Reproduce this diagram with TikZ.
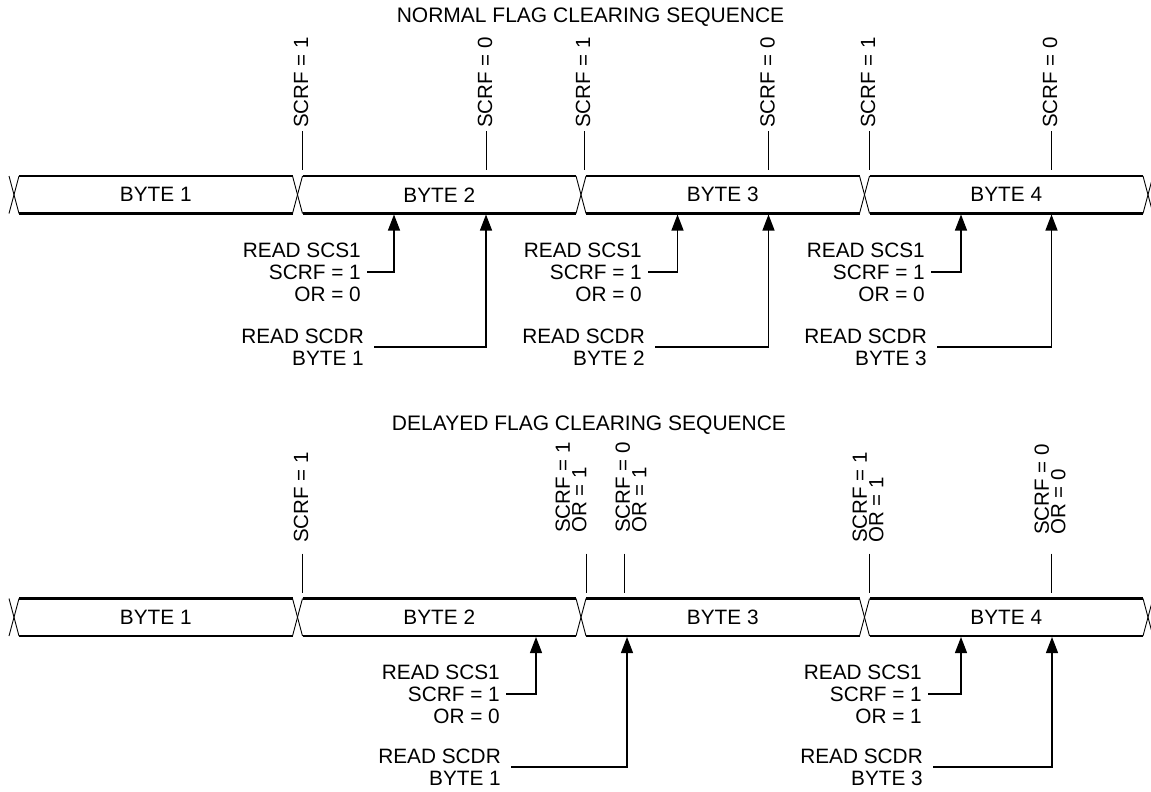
\documentclass[tikz,border=0pt]{standalone}
\usepackage{fontspec}
\setmainfont{Liberation Sans}
\usetikzlibrary{arrows.meta}
\begin{document}
\begin{tikzpicture}[x=1pt,y=-1pt,
  txt/.style={inner sep=0pt, font=\fontsize{20.8}{22}\selectfont},
  ttl/.style={inner sep=0pt, font=\fontsize{21}{23}\selectfont},
  rtxt/.style={inner sep=0pt, rotate=90, anchor=west, align=left, font=\fontsize{20.5}{16.5}\selectfont},
  rblk/.style={txt, align=right, anchor=east},
  busline/.style={line width=2.2pt},
  xline/.style={line width=0.9pt},
  markline/.style={line width=1pt},
  conn/.style={line width=1.2pt, -{Triangle[length=16pt,width=12pt]}},
]
\useasboundingbox (0,0) rectangle (1151,792);

% ---------- titles ----------
\node[ttl] (t1) at (590.5,17.5) {NORMAL FLAG CLEARING SEQUENCE};
\node[ttl] (t2) at (589,425) {DELAYED FLAG CLEARING SEQUENCE};

% ---------- buses ----------
\foreach \yt/\yb in {176/213.5, 598.5/636} {
  \foreach \a/\b in {14/297.5, 297.5/581, 581/864.5, 864.5/1148} {
    \draw[busline] (\a+5,\yt) -- (\b-5,\yt);
    \draw[busline] (\a+5,\yb) -- (\b-5,\yb);
  }
  \foreach \c in {14,297.5,581,864.5,1148} {
    \draw[xline] (\c-5,\yt) -- (\c+5,\yb);
    \draw[xline] (\c+5,\yt) -- (\c-5,\yb);
  }
}
\foreach \x/\n in {155.75/1, 439.25/2, 722.75/3, 1006.25/4} {
  \node[txt] (tb\n) at (\x,194.75) {BYTE \n};
  \node[txt] (bb\n) at (\x,617.25) {BYTE \n};
}

% ---------- top markers ----------
\foreach \x/\lab/\n in {302/1/a, 486/0/b, 584/1/c, 768.5/0/d, 869/1/e, 1051/0/f} {
  \node[rtxt] (tl\n) at (\x-1,128) {SCRF = \lab};
  \coordinate (tm\n a) at (\x,131);
  \coordinate (tm\n b) at (\x,170);
  \draw[markline] (tm\n a) -- (tm\n b);
}

% ---------- bottom markers ----------
\node[rtxt] (bla) at (301,543) {SCRF = 1};
\node[rtxt] (blb) at (571,533) {SCRF = 1\\OR = 1};
\node[rtxt] (blc) at (631,533) {SCRF = 0\\OR = 1};
\node[rtxt] (bld) at (868,543) {SCRF = 1\\OR = 1};
\node[rtxt] (ble) at (1050,535) {SCRF = 0\\OR = 0};
\foreach \x/\n in {302/a, 586.5/b, 624.5/c, 869/d, 1051/e} {
  \coordinate (bm\n a) at (\x,553.5);
  \coordinate (bm\n b) at (\x,592.5);
  \draw[markline] (bm\n a) -- (bm\n b);
}

% ---------- top read blocks ----------
\node[rblk] (s1) at (361,272) {READ SCS1\\SCRF = 1\\OR = 0};
\node[rblk] (d1) at (364,347) {READ SCDR\\BYTE 1};
\node[rblk] (s2) at (642,272) {READ SCS1\\SCRF = 1\\OR = 0};
\node[rblk] (d2) at (645,347) {READ SCDR\\BYTE 2};
\node[rblk] (s3) at (925,272) {READ SCS1\\SCRF = 1\\OR = 0};
\node[rblk] (d3) at (927,347) {READ SCDR\\BYTE 3};
\coordinate (s1t) at (394,214.5);
\coordinate (d1t) at (486,214.5);
\coordinate (s2t) at (677.5,214.5);
\coordinate (d2t) at (768.5,214.5);
\coordinate (s3t) at (961,214.5);
\coordinate (d3t) at (1051.5,214.5);
\foreach \k in {1,2,3} {
  \draw[conn] ([xshift=6pt]s\k.east) -| (s\k t);
  \draw[conn] ([xshift=10pt]d\k.east) -| (d\k t);
}

% ---------- bottom read blocks ----------
\node[rblk] (s4) at (500,694) {READ SCS1\\SCRF = 1\\OR = 0};
\node[rblk] (d4) at (501,767) {READ SCDR\\BYTE 1};
\node[rblk] (s5) at (922,694) {READ SCS1\\SCRF = 1\\OR = 1};
\node[rblk] (d5) at (923,767) {READ SCDR\\BYTE 3};
\coordinate (s4t) at (536,637);
\coordinate (d4t) at (627,637);
\coordinate (s5t) at (961,637);
\coordinate (d5t) at (1052,637);
\foreach \k in {4,5} {
  \draw[conn] ([xshift=6pt]s\k.east) -| (s\k t);
  \draw[conn] ([xshift=10pt]d\k.east) -| (d\k t);
}
\end{tikzpicture}
\end{document}
